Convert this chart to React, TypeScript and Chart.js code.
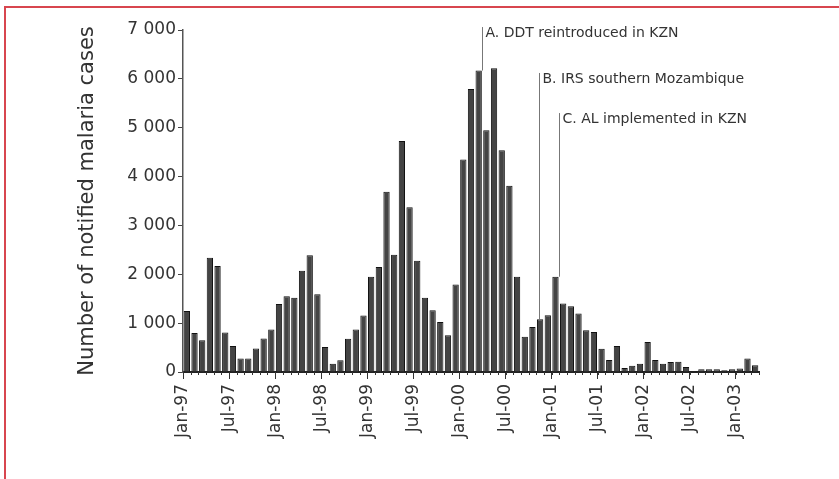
import React, { useEffect, useRef } from "react";
import { Chart, registerables } from "chart.js";

Chart.register(...registerables);

// Monthly notified malaria cases, Jan-97 .. Mar-03
const cases = [
  1250, 800, 650, 2340, 2170, 810, 530, 275, 275, 480, 685, 870,
  1390, 1550, 1520, 2070, 2390, 1590, 510, 170, 240, 680, 870, 1155,
  1950, 2150, 3690, 2400, 4730, 3370, 2275, 1520, 1265, 1025, 750, 1790,
  4350, 5790, 6170, 4950, 6215, 4540, 3810, 1950, 720, 920, 1080, 1160,
  1950, 1400, 1345, 1195, 855, 820, 478, 245, 530, 80, 130, 170,
  615, 245, 170, 205, 210, 100, 20, 55, 55, 55, 35, 55,
  70, 275, 140,
];

const tickMonths = [0, 6, 12, 18, 24, 30, 36, 42, 48, 54, 60, 66, 72];
const tickLabels = [
  "Jan-97", "Jul-97", "Jan-98", "Jul-98", "Jan-99", "Jul-99", "Jan-00",
  "Jul-00", "Jan-01", "Jul-01", "Jan-02", "Jul-02", "Jan-03",
];

const yTickValues = [0, 1000, 2000, 3000, 4000, 5000, 6000, 7000];
const yTickLabels = ["0", "1 000", "2 000", "3 000", "4 000", "5 000", "6 000", "7 000"];

const eventLabels = ["A. DDT reintroduced in KZN", "B. IRS southern Mozambique", "C. AL implemented in KZN"];
const eventMonths = [38.95, 46.3, 48.9];
const eventTops = [7060, 6120, 5300];
const eventBottoms = [6170, 1080, 1950];

const FONT = "DejaVu Sans";

export default function App() {
  const ref = useRef<HTMLCanvasElement>(null);

  useEffect(() => {
    document.body.style.margin = "0";
    const canvas = ref.current;
    if (!canvas) return;

    const eventsPlugin = {
      id: "eventsAndMinorTicks",
      afterDatasetsDraw(chart: any) {
        const { ctx } = chart;
        const xs = chart.scales.x;
        const ys = chart.scales.y;
        ctx.save();
        // minor month ticks
        ctx.strokeStyle = "#333";
        ctx.lineWidth = 1;
        for (let m = 0; m <= cases.length; m++) {
          const px = Math.round(xs.getPixelForValue(m)) + 0.5;
          ctx.beginPath();
          ctx.moveTo(px, ys.bottom);
          ctx.lineTo(px, ys.bottom + 3);
          ctx.stroke();
        }
        // event annotations
        ctx.font = `14px "${FONT}"`;
        ctx.textBaseline = "middle";
        ctx.textAlign = "left";
        for (let i = 0; i < eventLabels.length; i++) {
          const px = Math.round(xs.getPixelForValue(eventMonths[i])) + 0.5;
          const top = ys.getPixelForValue(eventTops[i]);
          const bot = ys.getPixelForValue(eventBottoms[i]);
          ctx.strokeStyle = "#777";
          ctx.lineWidth = 1;
          ctx.beginPath();
          ctx.moveTo(px, top);
          ctx.lineTo(px, bot);
          ctx.stroke();
          ctx.fillStyle = "#333";
          ctx.fillText(eventLabels[i], px + 3, top + 6);
        }
        ctx.restore();
      },
    };

    const chart = new Chart(canvas, {
      type: "bar",
      data: {
        datasets: [
          {
            data: cases.map((v, i) => ({ x: i + 0.5, y: v })),
            backgroundColor: "#444",
            borderColor: "#111",
            borderWidth: 1,
            barPercentage: 0.82,
            categoryPercentage: 1,
          },
        ],
      },
      options: {
        responsive: false,
        animation: false,
        layout: { padding: { left: 0, top: 30, right: 80, bottom: 0 } },
        plugins: { legend: { display: false }, tooltip: { enabled: false } },
        scales: {
          x: {
            type: "linear",
            min: 0,
            max: cases.length,
            offset: false,
            afterBuildTicks: (s: any) => {
              s.ticks = tickMonths.map((v) => ({ value: v }));
            },
            afterFit: (s: any) => {
              s.height = 107;
            },
            grid: {
              offset: false,
              drawOnChartArea: false,
              drawTicks: true,
              tickLength: 7,
              tickColor: "#333",
              tickWidth: 1,
            },
            border: { display: true, color: "#222", width: 2 },
            ticks: {
              autoSkip: false,
              minRotation: 90,
              maxRotation: 90,
              padding: 5,
              color: "#333",
              font: { family: FONT, size: 17 },
              callback: (v: any) => {
                const k = tickMonths.indexOf(Number(v));
                return k >= 0 ? tickLabels[k] : "";
              },
            },
          },
          y: {
            min: 0,
            max: 7000,
            afterBuildTicks: (s: any) => {
              s.ticks = yTickValues.map((v) => ({ value: v }));
            },
            afterFit: (s: any) => {
              s.width = 183;
            },
            grid: { drawOnChartArea: false, tickLength: 5, tickColor: "#444" },
            border: { display: true, color: "#555", width: 1.5 },
            ticks: {
              padding: 2,
              color: "#333",
              font: { family: FONT, size: 17 },
              callback: (v: any) => {
                const k = yTickValues.indexOf(Number(v));
                return k >= 0 ? yTickLabels[k] : "";
              },
            },
            title: {
              display: true,
              text: "Number of notified malaria cases",
              color: "#333",
              font: { family: FONT, size: 21 },
              padding: { top: 75, bottom: 0 },
            },
          },
        },
      },
      plugins: [eventsPlugin],
    } as any);

    return () => chart.destroy();
  }, []);

  return (
    <div style={{ position: "relative", width: 839, height: 479, overflow: "hidden", background: "#fff" }}>
      <canvas ref={ref} width={839} height={479} style={{ display: "block" }} />
      <div
        style={{
          position: "absolute",
          left: 4,
          top: 6,
          width: 850,
          height: 490,
          borderLeft: "2px solid #d8464f",
          borderTop: "2px solid #d8464f",
          pointerEvents: "none",
        }}
      />
    </div>
  );
}
